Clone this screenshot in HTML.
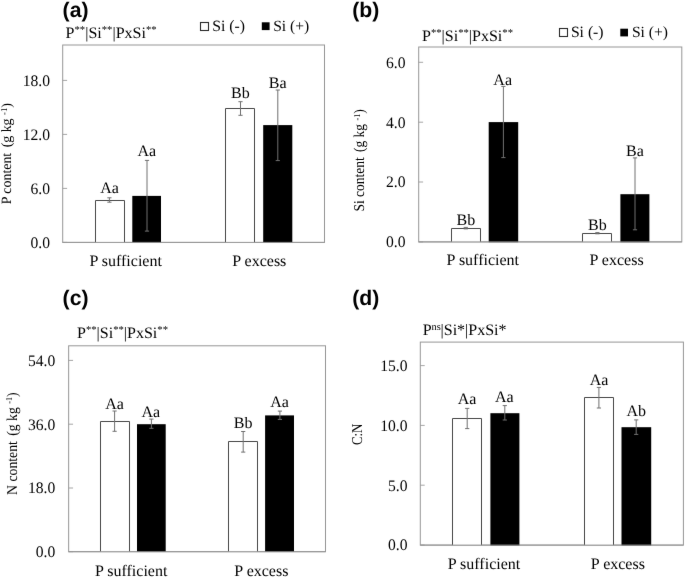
<!DOCTYPE html>
<html><head><meta charset="utf-8"><title>Figure</title>
<style>html,body{margin:0;padding:0;background:#fff;}svg{display:block;}text{text-rendering:geometricPrecision;}</style></head><body>
<svg width="685" height="578" viewBox="0 0 685 578" role="img" aria-label="Four-panel bar chart of P, Si, N content and C:N ratio">
<defs><filter id="soft" x="0" y="0" width="685" height="578" filterUnits="userSpaceOnUse" color-interpolation-filters="sRGB"><feConvolveMatrix order="3" kernelMatrix="0.00276 0.04704 0.00276 0.04704 0.80077 0.04704 0.00276 0.04704 0.00276" divisor="1" edgeMode="duplicate" preserveAlpha="true"/><feColorMatrix type="saturate" values="0"/></filter></defs>
<g filter="url(#soft)">
<rect width="685" height="578" fill="#fff"/>
<rect x="62.7" y="45.0" width="261.8" height="197.4" fill="none" stroke="#969696" stroke-width="1"/>
<line x1="62.7" y1="80.4" x2="67.10" y2="80.4" stroke="#969696" stroke-width="0.85"/>
<text transform="translate(50 85.7) scale(0.975 1)" font-family='"Liberation Serif", serif' font-size="16" text-anchor="end" fill="#000">18.0</text>
<line x1="62.7" y1="134.4" x2="67.10" y2="134.4" stroke="#969696" stroke-width="0.85"/>
<text transform="translate(50 139.7) scale(0.975 1)" font-family='"Liberation Serif", serif' font-size="16" text-anchor="end" fill="#000">12.0</text>
<line x1="62.7" y1="188.4" x2="67.10" y2="188.4" stroke="#969696" stroke-width="0.85"/>
<text transform="translate(50 193.7) scale(0.975 1)" font-family='"Liberation Serif", serif' font-size="16" text-anchor="end" fill="#000">6.0</text>
<line x1="62.7" y1="242.4" x2="67.10" y2="242.4" stroke="#969696" stroke-width="0.85"/>
<text transform="translate(50 247.7) scale(0.975 1)" font-family='"Liberation Serif", serif' font-size="16" text-anchor="end" fill="#000">0.0</text>
<path d="M95.5 242.4V200.5H124.5V242.4" fill="#fff" stroke="#484848" stroke-width="1"/>
<rect x="132.3" y="195.9" width="28.70" height="46.8" fill="#000"/>
<path d="M225.5 242.4V108.5H254.5V242.4" fill="#fff" stroke="#484848" stroke-width="1"/>
<rect x="263.2" y="125.1" width="29.10" height="117.60" fill="#000"/>
<line x1="62.7" y1="242.4" x2="324.5" y2="242.4" stroke="#969696" stroke-width="1"/>
<path d="M109.4 197.8V202.2M107.30 197.8H111.5M107.30 202.2H111.5" stroke="#707070" stroke-width="1" fill="none"/>
<path d="M147.0 160.4V231.1M144.9 160.4H149.1M144.9 231.1H149.1" stroke="#707070" stroke-width="1" fill="none"/>
<path d="M240.5 101.7V115.3M238.4 101.7H242.6M238.4 115.3H242.6" stroke="#707070" stroke-width="1" fill="none"/>
<path d="M277.8 90.0V160.6M275.7 90.0H279.90M275.7 160.6H279.90" stroke="#707070" stroke-width="1" fill="none"/>
<text x="109.5" y="192.7" font-family='"Liberation Serif", serif' font-size="16" font-weight="normal" text-anchor="middle" fill="#000" >Aa</text>
<text x="146.9" y="156.4" font-family='"Liberation Serif", serif' font-size="16" font-weight="normal" text-anchor="middle" fill="#000" >Aa</text>
<text x="240.4" y="98.4" font-family='"Liberation Serif", serif' font-size="16" font-weight="normal" text-anchor="middle" fill="#000" >Bb</text>
<text x="277.7" y="88.2" font-family='"Liberation Serif", serif' font-size="16" font-weight="normal" text-anchor="middle" fill="#000" >Ba</text>
<text x="125.7" y="266.4" font-family='"Liberation Serif", serif' font-size="16" font-weight="normal" text-anchor="middle" fill="#000" >P sufficient</text>
<text x="259.3" y="266.4" font-family='"Liberation Serif", serif' font-size="16" font-weight="normal" text-anchor="middle" fill="#000" >P excess</text>
<text x="65.6" y="37.8" font-family='"Liberation Serif", serif' font-size="16" font-weight="normal" text-anchor="start" fill="#000" >P<tspan font-size="10.7" dy="-5.2">**</tspan><tspan dy="5.2">|Si</tspan><tspan font-size="10.7" dy="-5.2">**</tspan><tspan dy="5.2">|PxSi</tspan><tspan font-size="10.7" dy="-5.2">**</tspan></text>
<text x="62.6" y="16.9" font-family='"Liberation Sans", sans-serif' font-size="21.2" font-weight="bold" text-anchor="start" fill="#000" >(a)</text>
<text transform="translate(11.2 204.3) rotate(-90)" font-family='"Liberation Serif", serif' font-size="14.2" fill="#000" textLength="101.3" lengthAdjust="spacingAndGlyphs">P content <tspan dx="2">(g</tspan> kg <tspan font-size="9" dy="-4.5">-1</tspan><tspan dy="4.5">)</tspan></text>
<rect x="200.5" y="22.5" width="8" height="8" fill="#fff" stroke="#2a2a2a" stroke-width="1.1"/>
<text x="212.2" y="31.3" font-family='"Liberation Serif", serif' font-size="15.7" font-weight="normal" text-anchor="start" fill="#000" >Si (-)</text>
<rect x="261.8" y="22.3" width="7.8" height="7.8" fill="#000"/>
<text x="273.2" y="31.3" font-family='"Liberation Serif", serif' font-size="15.6" font-weight="normal" text-anchor="start" fill="#000" >Si (+)</text>
<rect x="418.7" y="47.0" width="263.10" height="194.9" fill="none" stroke="#969696" stroke-width="1"/>
<line x1="418.7" y1="62.3" x2="423.10" y2="62.3" stroke="#969696" stroke-width="0.85"/>
<text transform="translate(405.5 67.6) scale(0.975 1)" font-family='"Liberation Serif", serif' font-size="16" text-anchor="end" fill="#000">6.0</text>
<line x1="418.7" y1="122.2" x2="423.10" y2="122.2" stroke="#969696" stroke-width="0.85"/>
<text transform="translate(405.5 127.5) scale(0.975 1)" font-family='"Liberation Serif", serif' font-size="16" text-anchor="end" fill="#000">4.0</text>
<line x1="418.7" y1="182.0" x2="423.10" y2="182.0" stroke="#969696" stroke-width="0.85"/>
<text transform="translate(405.5 187.3) scale(0.975 1)" font-family='"Liberation Serif", serif' font-size="16" text-anchor="end" fill="#000">2.0</text>
<line x1="418.7" y1="241.9" x2="423.10" y2="241.9" stroke="#969696" stroke-width="0.85"/>
<text transform="translate(405.5 247.2) scale(0.975 1)" font-family='"Liberation Serif", serif' font-size="16" text-anchor="end" fill="#000">0.0</text>
<path d="M451.5 241.9V228.5H480.5V241.9" fill="#fff" stroke="#484848" stroke-width="1"/>
<rect x="488.7" y="122.1" width="29.50" height="120.10" fill="#000"/>
<path d="M582.5 241.9V233.5H611.5V241.9" fill="#fff" stroke="#484848" stroke-width="1"/>
<rect x="620.4" y="194.2" width="29.0" height="48.00" fill="#000"/>
<line x1="418.7" y1="241.9" x2="681.8" y2="241.9" stroke="#969696" stroke-width="1"/>
<path d="M465.8 227.4V228.9M463.7 227.4H467.90M463.7 228.9H467.90" stroke="#707070" stroke-width="1" fill="none"/>
<path d="M503.4 86.4V157.6M501.30 86.4H505.5M501.30 157.6H505.5" stroke="#707070" stroke-width="1" fill="none"/>
<path d="M597.4 232.6V233.8M595.3 232.6H599.5M595.3 233.8H599.5" stroke="#707070" stroke-width="1" fill="none"/>
<path d="M635 157.9V229.8M632.9 157.9H637.1M632.9 229.8H637.1" stroke="#707070" stroke-width="1" fill="none"/>
<text x="465.8" y="225.0" font-family='"Liberation Serif", serif' font-size="16" font-weight="normal" text-anchor="middle" fill="#000" >Bb</text>
<text x="502.7" y="84.9" font-family='"Liberation Serif", serif' font-size="16" font-weight="normal" text-anchor="middle" fill="#000" >Aa</text>
<text x="597.4" y="230.0" font-family='"Liberation Serif", serif' font-size="16" font-weight="normal" text-anchor="middle" fill="#000" >Bb</text>
<text x="635.0" y="156.3" font-family='"Liberation Serif", serif' font-size="16" font-weight="normal" text-anchor="middle" fill="#000" >Ba</text>
<text x="482.8" y="265" font-family='"Liberation Serif", serif' font-size="16" font-weight="normal" text-anchor="middle" fill="#000" >P sufficient</text>
<text x="616.6" y="265" font-family='"Liberation Serif", serif' font-size="16" font-weight="normal" text-anchor="middle" fill="#000" >P excess</text>
<text x="422.0" y="40.7" font-family='"Liberation Serif", serif' font-size="16" font-weight="normal" text-anchor="start" fill="#000" >P<tspan font-size="10.7" dy="-5.2">**</tspan><tspan dy="5.2">|Si</tspan><tspan font-size="10.7" dy="-5.2">**</tspan><tspan dy="5.2">|PxSi</tspan><tspan font-size="10.7" dy="-5.2">**</tspan></text>
<text x="352.3" y="16.9" font-family='"Liberation Sans", sans-serif' font-size="21.2" font-weight="bold" text-anchor="start" fill="#000" >(b)</text>
<text transform="translate(364.0 211.5) rotate(-90)" font-family='"Liberation Serif", serif' font-size="15" fill="#000" textLength="102.2" lengthAdjust="spacingAndGlyphs">Si content <tspan dx="2">(g</tspan> kg <tspan font-size="9" dy="-4.5">-1</tspan><tspan dy="4.5">)</tspan></text>
<rect x="559.5" y="28.5" width="8" height="8" fill="#fff" stroke="#2a2a2a" stroke-width="1.1"/>
<text x="570.9" y="37.3" font-family='"Liberation Serif", serif' font-size="15.7" font-weight="normal" text-anchor="start" fill="#000" >Si (-)</text>
<rect x="620.3" y="28.7" width="7.7" height="7.7" fill="#000"/>
<text x="631.9" y="37.3" font-family='"Liberation Serif", serif' font-size="15.6" font-weight="normal" text-anchor="start" fill="#000" >Si (+)</text>
<rect x="68.65" y="345.8" width="256.85" height="205.90" fill="none" stroke="#969696" stroke-width="1"/>
<line x1="68.65" y1="360.4" x2="73.05" y2="360.4" stroke="#969696" stroke-width="0.85"/>
<text transform="translate(55.2 365.7) scale(0.975 1)" font-family='"Liberation Serif", serif' font-size="16" text-anchor="end" fill="#000">54.0</text>
<line x1="68.65" y1="424.2" x2="73.05" y2="424.2" stroke="#969696" stroke-width="0.85"/>
<text transform="translate(55.2 429.5) scale(0.975 1)" font-family='"Liberation Serif", serif' font-size="16" text-anchor="end" fill="#000">36.0</text>
<line x1="68.65" y1="488.0" x2="73.05" y2="488.0" stroke="#969696" stroke-width="0.85"/>
<text transform="translate(55.2 493.3) scale(0.975 1)" font-family='"Liberation Serif", serif' font-size="16" text-anchor="end" fill="#000">18.0</text>
<line x1="68.65" y1="551.7" x2="73.05" y2="551.7" stroke="#969696" stroke-width="0.85"/>
<text transform="translate(55.2 557.0) scale(0.975 1)" font-family='"Liberation Serif", serif' font-size="16" text-anchor="end" fill="#000">0.0</text>
<path d="M100.5 551.7V421.5H129.5V551.7" fill="#fff" stroke="#484848" stroke-width="1"/>
<rect x="137.0" y="424.2" width="28.70" height="127.80" fill="#000"/>
<path d="M228.5 551.7V441.5H257.5V551.7" fill="#fff" stroke="#484848" stroke-width="1"/>
<rect x="265.1" y="415.4" width="28.90" height="136.60" fill="#000"/>
<line x1="68.65" y1="551.7" x2="325.5" y2="551.7" stroke="#969696" stroke-width="1"/>
<path d="M114.6 411.0V431.3M112.5 411.0H116.70M112.5 431.3H116.70" stroke="#707070" stroke-width="1" fill="none"/>
<path d="M151.4 419.1V428.3M149.3 419.1H153.5M149.3 428.3H153.5" stroke="#707070" stroke-width="1" fill="none"/>
<path d="M243.2 431.5V452.1M241.1 431.5H245.30M241.1 452.1H245.30" stroke="#707070" stroke-width="1" fill="none"/>
<path d="M279.9 411.1V419.4M277.80 411.1H282.0M277.80 419.4H282.0" stroke="#707070" stroke-width="1" fill="none"/>
<text x="114.6" y="408.5" font-family='"Liberation Serif", serif' font-size="16" font-weight="normal" text-anchor="middle" fill="#000" >Aa</text>
<text x="150.8" y="417.0" font-family='"Liberation Serif", serif' font-size="16" font-weight="normal" text-anchor="middle" fill="#000" >Aa</text>
<text x="243.1" y="428.4" font-family='"Liberation Serif", serif' font-size="16" font-weight="normal" text-anchor="middle" fill="#000" >Bb</text>
<text x="279.5" y="406.8" font-family='"Liberation Serif", serif' font-size="16" font-weight="normal" text-anchor="middle" fill="#000" >Aa</text>
<text x="131.2" y="576" font-family='"Liberation Serif", serif' font-size="16" font-weight="normal" text-anchor="middle" fill="#000" >P sufficient</text>
<text x="261.4" y="576" font-family='"Liberation Serif", serif' font-size="16" font-weight="normal" text-anchor="middle" fill="#000" >P excess</text>
<text x="77.0" y="337.9" font-family='"Liberation Serif", serif' font-size="16" font-weight="normal" text-anchor="start" fill="#000" >P<tspan font-size="10.7" dy="-5.2">**</tspan><tspan dy="5.2">|Si</tspan><tspan font-size="10.7" dy="-5.2">**</tspan><tspan dy="5.2">|PxSi</tspan><tspan font-size="10.7" dy="-5.2">**</tspan></text>
<text x="62.6" y="304.9" font-family='"Liberation Sans", sans-serif' font-size="21.2" font-weight="bold" text-anchor="start" fill="#000" >(c)</text>
<text transform="translate(16.9 494.9) rotate(-90)" font-family='"Liberation Serif", serif' font-size="15" fill="#000" textLength="102.6" lengthAdjust="spacingAndGlyphs">N content <tspan dx="2">(g</tspan> kg <tspan font-size="9" dy="-4.5">-1</tspan><tspan dy="4.5">)</tspan></text>
<rect x="420.3" y="342.1" width="263.10" height="203.0" fill="none" stroke="#969696" stroke-width="1"/>
<line x1="420.3" y1="365.6" x2="424.7" y2="365.6" stroke="#969696" stroke-width="0.85"/>
<text transform="translate(407.5 370.9) scale(0.975 1)" font-family='"Liberation Serif", serif' font-size="16" text-anchor="end" fill="#000">15.0</text>
<line x1="420.3" y1="425.4" x2="424.7" y2="425.4" stroke="#969696" stroke-width="0.85"/>
<text transform="translate(407.5 430.7) scale(0.975 1)" font-family='"Liberation Serif", serif' font-size="16" text-anchor="end" fill="#000">10.0</text>
<line x1="420.3" y1="485.2" x2="424.7" y2="485.2" stroke="#969696" stroke-width="0.85"/>
<text transform="translate(407.5 490.5) scale(0.975 1)" font-family='"Liberation Serif", serif' font-size="16" text-anchor="end" fill="#000">5.0</text>
<line x1="420.3" y1="545.1" x2="424.7" y2="545.1" stroke="#969696" stroke-width="0.85"/>
<text transform="translate(407.5 550.4) scale(0.975 1)" font-family='"Liberation Serif", serif' font-size="16" text-anchor="end" fill="#000">0.0</text>
<path d="M452.5 545.1V418.5H481.5V545.1" fill="#fff" stroke="#484848" stroke-width="1"/>
<rect x="490.4" y="413.2" width="29.0" height="132.20" fill="#000"/>
<path d="M584.5 545.1V397.5H613.5V545.1" fill="#fff" stroke="#484848" stroke-width="1"/>
<rect x="621.5" y="427.2" width="29.70" height="118.20" fill="#000"/>
<line x1="420.3" y1="545.1" x2="683.4" y2="545.1" stroke="#969696" stroke-width="1"/>
<path d="M467.2 408.4V428.6M465.10 408.4H469.3M465.10 428.6H469.3" stroke="#707070" stroke-width="1" fill="none"/>
<path d="M504.8 405.6V420.0M502.7 405.6H506.90M502.7 420.0H506.90" stroke="#707070" stroke-width="1" fill="none"/>
<path d="M598.9 387.4V408.0M596.8 387.4H601.0M596.8 408.0H601.0" stroke="#707070" stroke-width="1" fill="none"/>
<path d="M636.2 419.9V434.4M634.1 419.9H638.30M634.1 434.4H638.30" stroke="#707070" stroke-width="1" fill="none"/>
<text x="467.1" y="404.4" font-family='"Liberation Serif", serif' font-size="16" font-weight="normal" text-anchor="middle" fill="#000" >Aa</text>
<text x="504.4" y="401.9" font-family='"Liberation Serif", serif' font-size="16" font-weight="normal" text-anchor="middle" fill="#000" >Aa</text>
<text x="599.0" y="385.3" font-family='"Liberation Serif", serif' font-size="16" font-weight="normal" text-anchor="middle" fill="#000" >Aa</text>
<text x="636.2" y="416.2" font-family='"Liberation Serif", serif' font-size="16" font-weight="normal" text-anchor="middle" fill="#000" >Ab</text>
<text x="484.0" y="568.6" font-family='"Liberation Serif", serif' font-size="16" font-weight="normal" text-anchor="middle" fill="#000" >P sufficient</text>
<text x="617.9" y="568.6" font-family='"Liberation Serif", serif' font-size="16" font-weight="normal" text-anchor="middle" fill="#000" >P excess</text>
<text x="422.7" y="334.8" font-family='"Liberation Serif", serif' font-size="16" font-weight="normal" text-anchor="start" fill="#000" >P<tspan font-size="10.4" dy="-5">ns</tspan><tspan dy="5" dx="-0.3">|Si*|PxSi*</tspan></text>
<text x="352.3" y="304.9" font-family='"Liberation Sans", sans-serif' font-size="21.2" font-weight="bold" text-anchor="start" fill="#000" >(d)</text>
<text transform="translate(361.8 445.0) rotate(-90)" font-family='"Liberation Serif", serif' font-size="15" fill="#000" textLength="21.4" lengthAdjust="spacingAndGlyphs">C:N</text>
</g>
</svg></body></html>
